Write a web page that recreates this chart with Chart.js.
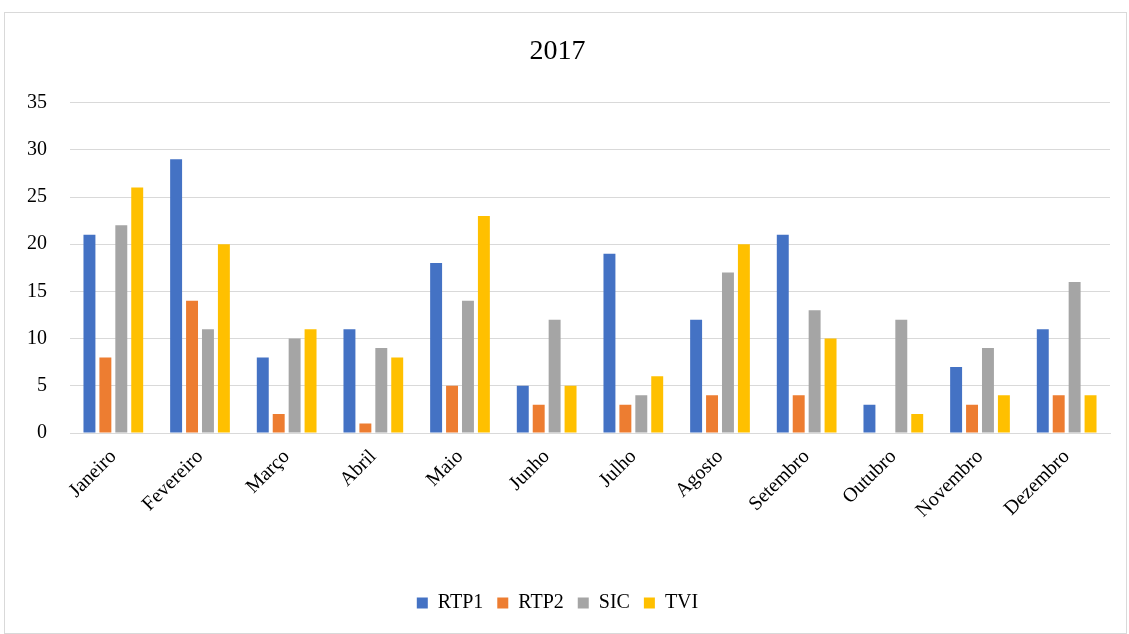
<!DOCTYPE html>
<html>
<head>
<meta charset="utf-8">
<script src="https://cdn.jsdelivr.net/npm/chart.js@4"></script>
<style>
    html, body { margin: 0; padding: 0; background: #fff; }
    #frame {
        position: absolute;
        left: 4px;
        top: 12px;
        width: 1121px;
        height: 620px;
        border: 1px solid #d9d9d9;
    }
</style>
</head>
<body>
<div id="frame"><canvas id="chart"></canvas></div>
<script>
const months = ["Janeiro", "Fevereiro", "Março", "Abril", "Maio", "Junho",
    "Julho", "Agosto", "Setembro", "Outubro", "Novembro", "Dezembro"];

const rtp1 = [21, 29, 8, 11, 18, 5, 19, 12, 21, 3, 7, 11];
const rtp2 = [8, 14, 2, 1, 5, 3, 3, 4, 4, 0, 3, 4];
const sic = [22, 11, 10, 9, 14, 12, 4, 17, 13, 12, 9, 16];
const tvi = [26, 20, 11, 8, 23, 5, 6, 20, 10, 2, 4, 4];

const serif = "'Liberation Serif', 'Times New Roman', serif";

Chart.defaults.color = "#000";
Chart.defaults.font.family = serif;

function series(label, data, color) {
    return {
        label: label,
        data: data,
        backgroundColor: color,
        borderWidth: 0,
        categoryPercentage: 0.735,
        barPercentage: 0.75
    };
}

new Chart(document.getElementById("chart"), {
    type: "bar",
    data: {
        labels: months,
        datasets: [
            series("RTP1", rtp1, "#4472C4"),
            series("RTP2", rtp2, "#ED7D31"),
            series("SIC", sic, "#A5A5A5"),
            series("TVI", tvi, "#FFC000")
        ]
    },
    options: {
        responsive: true,
        maintainAspectRatio: false,
        animation: false,
        layout: {
            padding: { left: 0, right: 16, top: 0, bottom: 10 }
        },
        plugins: {
            title: {
                display: true,
                text: "2017",
                font: { family: serif, size: 28, weight: "normal" },
                color: "#000",
                padding: { top: 22, bottom: 34 }
            },
            legend: {
                position: "bottom",
                labels: {
                    boxWidth: 11,
                    boxHeight: 11,
                    padding: 14,
                    font: { family: serif, size: 20 }
                }
            },
            tooltip: { enabled: false }
        },
        scales: {
            x: {
                grid: { display: false },
                border: { color: "#d9d9d9" },
                ticks: {
                    maxRotation: 45,
                    minRotation: 45,
                    font: { family: serif, size: 20 },
                    padding: 4
                },
                afterFit: function (axis) { axis.height = 146; }
            },
            y: {
                min: 0,
                max: 35,
                ticks: {
                    stepSize: 5,
                    font: { family: serif, size: 20 },
                    padding: 23
                },
                grid: { color: "#d9d9d9", drawTicks: false },
                border: { display: false },
                afterFit: function (axis) { axis.width = 65; }
            }
        }
    }
});
</script>
</body>
</html>
